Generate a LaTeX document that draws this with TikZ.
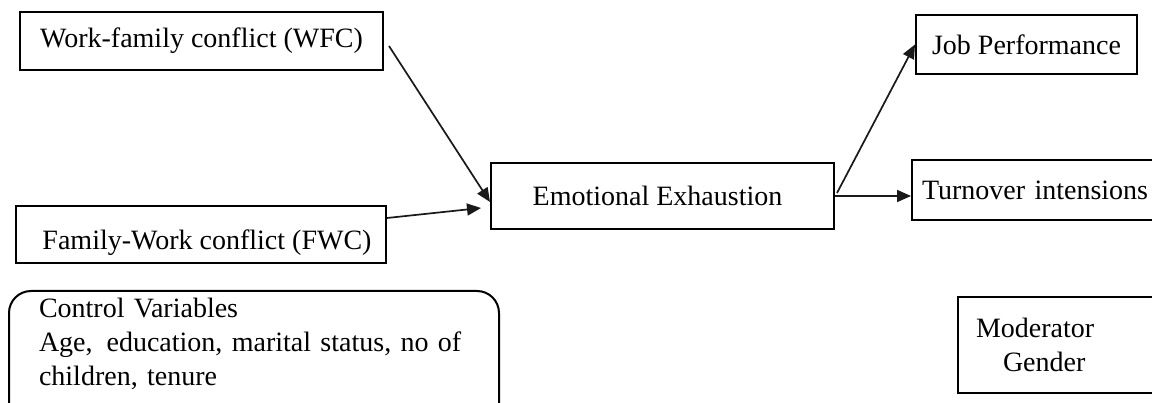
\documentclass[tikz,border=0pt]{standalone}
\usepackage{fontspec}
\setmainfont{Liberation Serif}
\usetikzlibrary{arrows.meta}

\begin{document}
\begin{tikzpicture}[
  x=1pt, y=-1pt,
  font=\fontsize{28}{34}\selectfont,
  box/.style={rectangle, draw=black, line width=2pt, inner sep=0pt, align=center},
  leftbox/.style={box, align=left},
  roundbox/.style={leftbox, rounded corners=22pt},
  arrow/.style={-{Triangle[length=14pt, width=12pt]}, line width=1.7pt, color=black!90}
]
\useasboundingbox (0,0) rectangle (1152,403);

% predictors
\node[box, minimum width=363pt, minimum height=58pt] (wfc) at (201.5,41) {Work-family conflict (WFC)};
\node[box, minimum width=370pt, minimum height=57pt] (fwc) at (201,235) {\raisebox{-8pt}[\height][\depth]{\hspace*{12pt}Family-Work conflict (FWC)}};

% mediator
\node[box, minimum width=343pt, minimum height=66pt] (ee) at (662.5,196) {\hspace*{-10pt}Emotional Exhaustion};

% outcomes
\node[box, minimum width=221pt, minimum height=59pt] (job) at (1026.5,44.5) {Job Performance};
\node[leftbox, anchor=west, minimum height=60pt, text width=240pt, inner xsep=10pt] (turn) at (911,190) {Turnover intensions};

% controls and moderator
\node[roundbox, anchor=north west, text width=430pt, inner xsep=30pt, inner ysep=7pt] (ctrl) at (8,290) {%
  Control Variables\\
  Age,\, education, marital status, no of\\
  children, tenure\rule[-45pt]{0pt}{0pt}};
\node[leftbox, anchor=west, minimum height=96pt, text width=180pt, inner xsep=18pt] (mod) at (957,345) {%
  Moderator\\
  \hspace*{27pt}Gender};

\draw[arrow] ([xshift=5pt, yshift=-5pt]wfc.east) -- ([yshift=-6pt]ee.west);
\draw[arrow] ([yshift=17pt]fwc.east) -- ([xshift=-9pt, yshift=-12pt]ee.west);
\draw[arrow] ([xshift=2pt, yshift=3pt]ee.east) -- (job.west);
\draw[arrow] (ee.east) -- (ee.east -| turn.west);

\end{tikzpicture}
\end{document}
